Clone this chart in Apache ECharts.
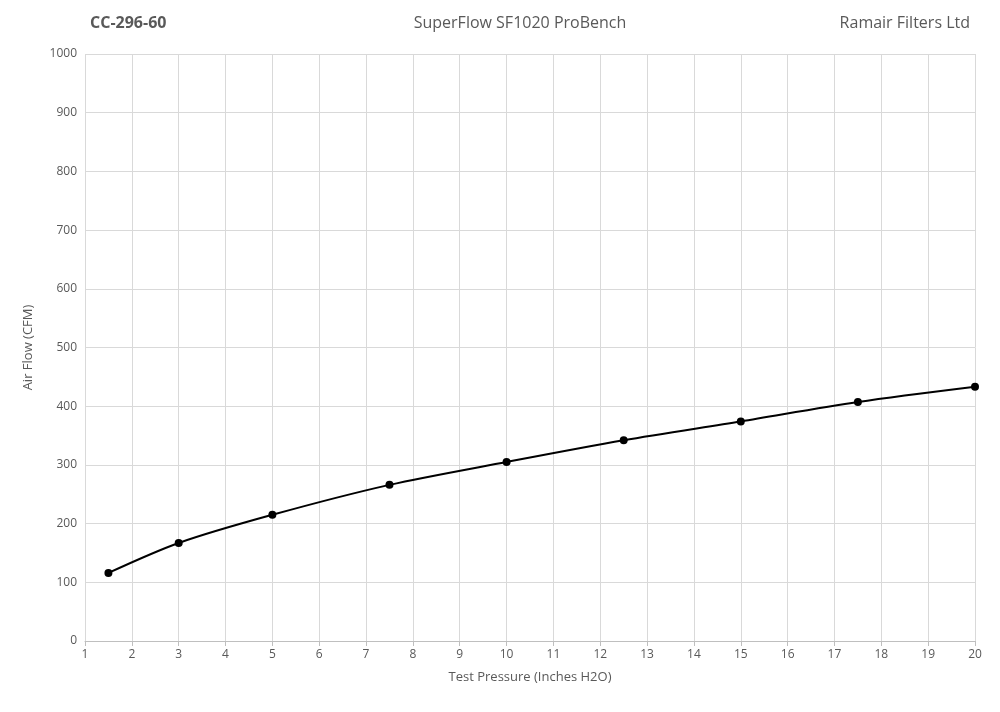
<!DOCTYPE html>
<html>
<head>
<meta charset="utf-8">
<script src="https://cdn.jsdelivr.net/npm/echarts@6/dist/echarts.min.js"></script>
<style>html,body{margin:0;padding:0;background:#fff}#chart{width:1000px;height:712px}</style>
</head>
<body>
<div id="chart"></div>
<script>
// test pressure (inches H2O) and measured air flow (CFM)
var pressure = [1.5, 3, 5, 7.5, 10, 12.5, 15, 17.5, 20];
var airFlow = [116, 167, 215, 266, 305, 342, 374, 407, 433];

var chart = echarts.init(document.getElementById('chart'));
var font = '"Open Sans", "Liberation Sans", sans-serif';
var grey = '#595959';

chart.setOption({
    animation: false,
    textStyle: { fontFamily: font },
    title: [
        { text: 'CC-296-60', left: 85, top: 10, textStyle: { fontSize: 16, fontWeight: 'bold', color: grey, fontFamily: font } },
        { text: 'SuperFlow SF1020 ProBench', left: 515, textAlign: 'center', top: 10, textStyle: { fontSize: 16, fontWeight: 'normal', color: grey, fontFamily: font } },
        { text: 'Ramair Filters Ltd', right: 25, top: 10, textStyle: { fontSize: 16, fontWeight: 'normal', color: grey, fontFamily: font } }
    ],
    grid: { left: 85, right: 25, top: 54, bottom: 71 },
    xAxis: {
        type: 'value', min: 1, max: 20, interval: 1,
        name: 'Test Pressure (Inches H2O)', nameLocation: 'middle', nameGap: 30,
        nameTextStyle: { color: grey, fontSize: 13 },
        axisLine: { lineStyle: { color: '#bfbfbf' } },
        axisTick: { show: true, lineStyle: { color: '#bfbfbf' } },
        axisLabel: { color: grey, fontSize: 12 },
        splitLine: { show: true, lineStyle: { color: '#d9d9d9' } }
    },
    yAxis: {
        type: 'value', min: 0, max: 1000, interval: 100,
        name: 'Air Flow (CFM)', nameLocation: 'middle', nameGap: 50,
        nameTextStyle: { color: grey, fontSize: 13 },
        axisLine: { show: false },
        axisTick: { show: false },
        axisLabel: { color: grey, fontSize: 12, formatter: function (v) { return String(v); } },
        splitLine: { lineStyle: { color: '#d9d9d9' } }
    },
    series: [{
        type: 'line',
        smooth: 0.3,
        data: pressure.map(function (p, i) { return [p, airFlow[i]]; }),
        symbol: 'circle', symbolSize: 8,
        lineStyle: { color: '#000', width: 2 },
        itemStyle: { color: '#000' }
    }]
});
</script>
</body>
</html>
